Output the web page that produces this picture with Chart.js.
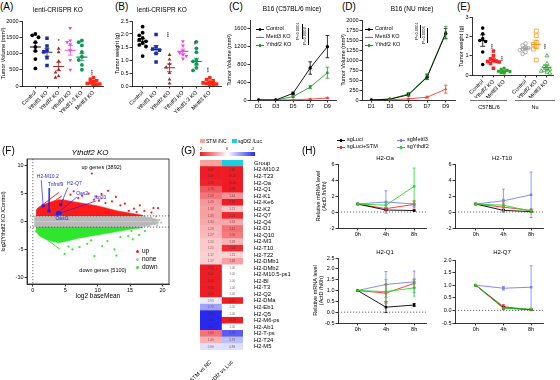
<!DOCTYPE html>
<html>
<head>
<meta charset="utf-8">
<script src="https://cdn.jsdelivr.net/npm/chart.js@4.4.1/dist/chart.umd.min.js"></script>
<style>
  body { margin: 0; width: 560px; height: 380px; position: relative; overflow: hidden; background: #fff;
         font-family: "Liberation Sans", Arial, sans-serif; }
  canvas { position: absolute; }
  .t { position: absolute; white-space: nowrap; line-height: 1; color: #000; }
</style>
</head>
<body>
<script>
//Panel A/B: lenti-CRISPR KO tumour volume and weight
const abGroups = ['Control', 'Ythdf1 KO', 'Ythdf2 KO', 'Ythdf3 KO', 'Ythdf1-3 KO', 'Mettl3 KO'];
const volControl = [1600, 1560, 1500, 1350, 1200, 1080, 830, 540];
const volYthdf1 = [1470, 1230, 1100, 1050, 870, 630];
const volYthdf2 = [1150, 1040, 760, 500, 420, 300, 260];
const volYthdf3 = [1780, 1400, 1350, 1280, 1100, 800, 500];
const volYthdf13 = [1400, 1350, 1250, 1050, 900, 800, 650, 500];
const volMettl3 = [260, 210, 160, 130, 100, 80, 60, 45, 30, 20, 10, 5];
const volMean = [1200, 1040, 600, 1100, 890, 70];
const volSem = [130, 120, 130, 150, 110, 25];
const volTicks = [0, 500, 1000, 1500, 2000];

const wtControl = [2.28, 2.05, 1.95, 1.85, 1.78, 1.72, 1.65, 1.58, 1.52, 1.15];
const wtYthdf1 = [1.98, 1.5, 1.42, 1.38, 1.25, 0.92];
const wtYthdf2 = [1.2, 1.02, 0.85, 0.72, 0.5, 0.25, 0.1];
const wtYthdf3 = [1.72, 1.55, 1.35, 1.28, 1.2, 1.15, 1.05];
const wtYthdf13 = [1.7, 1.45, 1.3, 1.0, 0.95, 0.85, 0.7, 0.6];
const wtMettl3 = [0.32, 0.25, 0.2, 0.15, 0.12, 0.1, 0.08, 0.05, 0.03];
const wtMean = [1.72, 1.4, 0.7, 1.33, 0.94, 0.13];
const wtSem = [0.1, 0.15, 0.15, 0.09, 0.13, 0.03];
const wtTicks = [0, 0.5, 1, 1.5, 2, 2.5];

//Panel C/D: growth curves
const days = ['D1', 'D3', 'D5', 'D7', 'D9'];
const c57Control = [0, 0, 150, 720, 1200];
const c57ControlErr = [0, 0, 30, 140, 250];
const c57Mettl3 = [0, 0, 5, 20, 45];
const c57Mettl3Err = [0, 0, 3, 8, 15];
const c57Ythdf2 = [0, 0, 75, 290, 615];
const c57Ythdf2Err = [0, 0, 15, 35, 125];
const c57Ticks = [0, 200, 400, 600, 800, 1000, 1200, 1400, 1600, 1800];

const nuControl = [0, 20, 130, 570, 1660];
const nuControlErr = [0, 10, 30, 60, 130];
const nuMettl3 = [0, 5, 30, 70, 270];
const nuMettl3Err = [0, 3, 10, 25, 100];
const nuYthdf2 = [0, 25, 150, 585, 1690];
const nuYthdf2Err = [0, 10, 35, 70, 150];
const nuTicks = [0, 250, 500, 750, 1000, 1250, 1500, 1750, 2000];

//Panel E: tumour weight in C57BL/6 and Nu mice
const eGroups = ['Control', 'Ythdf2 KO', 'Mettl3 KO', 'Control', 'Ythdf2 KO', 'Mettl3 KO'];
const eC57Control = [2.45, 2.15, 1.9, 1.8, 1.75, 1.2, 0.55];
const eC57Ythdf2 = [1.25, 1.0, 0.85, 0.75, 0.72, 0.7, 0.68, 0.6, 0.35];
const eC57Mettl3 = [0.35, 0.3, 0.25, 0.2, 0.18, 0.15, 0.12, 0.1];
const eNuControl = [1.65, 1.55, 1.45, 1.4, 1.35, 1.3, 1.2, 1.1];
const eNuYthdf2 = [2.3, 2.05, 1.7, 1.6, 1.5, 1.35, 0.78];
const eNuMettl3 = [1.0, 0.6, 0.45, 0.35, 0.3, 0.25, 0.2, 0.15, 0.1];
const eMean = [1.8, 0.78, 0.2, 1.4, 1.6, 0.4];
const eSem = [0.3, 0.08, 0.04, 0.07, 0.22, 0.1];
const eTicks = [0, 1, 2, 3];

//Panel F: MA plot, envelopes of the dense clouds plus sparse points
const noneX = [0.2, 1, 3, 5, 8, 11, 14, 16, 17.5, 18.5, 19.4];
const noneUpper = [0.9, 1, 1, 1, 1, 1, 1, 0.95, 0.8, 0.6, 0.3];
const noneLower = [-0.9, -1, -1, -1, -1, -1, -1, -0.95, -0.8, -0.6, -0.3];
const upX = [0.5, 1, 2, 3, 4, 5, 6, 7, 8, 9, 10, 11, 12, 13, 14, 15, 16, 17];
const upUpper = [2.0, 2.6, 3.2, 3.6, 3.9, 3.8, 3.6, 3.4, 3.2, 3.0, 2.8, 2.5, 2.2, 1.9, 1.7, 1.5, 1.3, 1.1];
const downX = [0.5, 1, 2, 3, 4, 5, 6, 7, 8, 9, 10, 11, 12, 13, 14, 15, 16, 17];
const downLower = [-1.8, -2.6, -3.2, -3.6, -3.8, -3.6, -3.3, -3.0, -2.8, -2.6, -2.4, -2.2, -2.0, -1.8, -1.6, -1.4, -1.25, -1.1];
const upPtsX = [9.1, 11.6, 10.6, 9.8, 8.6, 7.6, 12.8, 12.2, 13.5, 14.2, 15.6, 16.5, 17.2, 18.3, 18.6, 19.3, 6.3, 5.8, 7.0, 10.2, 11.2, 14.8, 16.0, 9.4];
const upPtsY = [8.6, 5.5, 4.9, 4.5, 5.0, 4.6, 4.4, 3.6, 2.9, 3.2, 2.3, 2.9, 1.9, 1.6, 2.4, 2.4, 5.4, 4.8, 4.2, 3.7, 3.3, 1.9, 1.7, 3.9];
const nonePtsX = [18.2, 18.8, 19.5, 17.9, 19.0, 19.8, 17.2, 18.5, 19.2];
const nonePtsY = [0.7, -0.5, 0.3, -0.8, 0.9, -0.2, 0.95, 0.1, -0.7];
const downPtsX = [4.9, 9.5, 12.9, 12.6, 15.4, 14.7, 16.4, 10.7, 8.4, 7.2, 11.5, 13.5, 17.3, 6.1, 9.0, 5.5, 15.2];
const downPtsY = [-5.8, -6.2, -6.1, -5.0, -3.2, -2.6, -2.4, -4.4, -4.0, -4.6, -3.5, -2.8, -1.7, -5.0, -3.4, -4.5, -1.7];
const upStreaks = [[[0.6, 2.2], [4.0, 5.2]], [[0.8, 1.6], [4.5, 4.6]], [[1.2, 1.3], [4.8, 4.0]]];
const downStreaks = [[[0.3, -1.6], [4.2, -5.0]], [[0.8, -1.6], [4.2, -3.7]], [[1.3, -1.4], [4.3, -3.3]], [[1.8, -1.3], [4.4, -3.0]]];
const genes = ['H2-M10.2', 'Tnfrsf9', 'H2-Q7', 'Oas2', 'Isg20', 'Oasl1'];
const geneX = [1.6, 2.5, 4.3, 3.9, 4.2, 3.8];
const geneY = [2.8, 1.9, 3.0, 1.6, 1.5, 1.4];
const maTicksX = [0, 5, 10, 15, 20];
const maTicksY = [-10, -5, 0, 5, 10];

//Panel G: fold-change heatmap
const heatGenes = ['H2-M10.2', 'H2-T23', 'H2-Oa', 'H2-Q1', 'H2-K1', 'H2-Ke6', 'H2-K2', 'H2-Q7', 'H2-Q4', 'H2-D1',
  'H2-Q10', 'H2-M3', 'H2-T10', 'H2-T22', 'H2-DMb1', 'H2-DMb2', 'H2-M10.5-ps1', 'H2-Bl', 'H2-T3', 'H2-Q2',
  'H2-DMa', 'H2-Eb1', 'H2-Q5', 'H2-M6-ps', 'H2-Ab1', 'H2-T-ps', 'H2-T24', 'H2-M5'];
const foldSTM = [3.00, 2.60, 2.09, 1.76, 1.59, 1.43, 1.38, 1.38, 1.34, 1.29, 1.27, 1.20, 1.20, 1.17, 1.17,
  3.00, 3.00, 3.00, 3.00, 3.00, 0.93, 0.72, 0.30, 0.30, 0.40, 1.60, 1.30, 0.90];
const foldSgDf2 = [7.60, 10.00, 10.00, 3.09, 1.44, 2.65, 1.21, 2.07, 1.34, 1.61, 1.56, 1.28, 2.03, 1.15, 1.38,
  1.00, 1.00, 1.00, 1.00, 1.00, 2.51, 1.00, 1.00, 10.00, 1.00, 0.56, 0.79, 0.89];
const heatColumns = ['STM vs NC', 'sgDf2 vs Luc'];

//Panel H: mRNA decay
const hours = ['0h', '4h', '8h'];
const oaLuci = [1, 0.25, 0.18], oaLuciErr = [0, 0.08, 0.05];
const oaStm = [1, 0.42, 0.95], oaStmErr = [0, 0.15, 0.45];
const oaMettl3 = [1, 1.25, 1.0], oaMettl3Err = [0, 1.4, 0.3];
const oaYthdf2 = [1, 0.85, 3.2], oaYthdf2Err = [0, 0.3, 2.3];
const t10Luci = [1, 0.2, 0.05], t10LuciErr = [0, 0.1, 0.03];
const t10Stm = [1, 0.6, 0.2], t10StmErr = [0, 0.5, 0.2];
const t10Mettl3 = [1, 1.4, 2.15], t10Mettl3Err = [0, 1.45, 2.85];
const t10Ythdf2 = [1, 0.85, 0.1], t10Ythdf2Err = [0, 0.75, 0.1];
const q1Luci = [1, 0.23, 0.33], q1LuciErr = [0, 0.25, 0.07];
const q1Stm = [1, 0.88, 1.33], q1StmErr = [0, 0.4, 0.2];
const q1Mettl3 = [1, 1.28, 1.4], q1Mettl3Err = [0, 0.6, 0.5];
const q1Ythdf2 = [1, 0.95, 1.12], q1Ythdf2Err = [0, 0.55, 0.38];
const q7Luci = [1, 0.1, 0.03], q7LuciErr = [0, 0.05, 0.02];
const q7Stm = [1, 0.15, 0.02], q7StmErr = [0, 0.08, 0.02];
const q7Mettl3 = [1, 0.88, 0.92], q7Mettl3Err = [0, 0.07, 0.85];
const q7Ythdf2 = [1, 0.08, 0.05], q7Ythdf2Err = [0, 0.03, 0.03];
const hTicksTop = [-2, 0, 2, 4, 6];
const hTicksQ1 = [-0.5, 0, 0.5, 1, 1.5, 2, 2.5];
const hTicksQ7 = [-0.5, 0, 0.5, 1, 1.5, 2];

/* global Chart */
const FONT = '"Liberation Sans", Arial, sans-serif';
Chart.defaults.font.family = FONT;
Chart.defaults.font.size = 5.5;
Chart.defaults.color = '#000';

const RED = '#ff3b30';
const GREEN = '#1e9e1e';

//Layout helpers
function canvasAt(left, top, w, h) {
  const c = document.createElement('canvas');
  c.width = w;
  c.height = h;
  c.style.cssText = `left:${left}px;top:${top}px;width:${w}px;height:${h}px`;
  document.body.appendChild(c);
  return c;
}

function label(text, x, y, size, extra = '') {
  const d = document.createElement('div');
  d.className = 't';
  d.style.cssText = `left:${x}px;top:${y}px;font-size:${size}px;${extra}`;
  d.textContent = text;
  document.body.appendChild(d);
  return d;
}

function ctext(text, cx, cy, size, extra = '') {
  return label(text, cx, cy, size, `transform:translate(-50%,-50%);${extra}`);
}

function rtext(text, cx, cy, size) {
  return label(text, cx, cy, size, 'transform:translate(-50%,-50%) rotate(-90deg)');
}

function box(x, y, w, h, css) {
  const d = document.createElement('div');
  d.style.cssText = `position:absolute;left:${x}px;top:${y}px;width:${w}px;height:${h}px;${css}`;
  document.body.appendChild(d);
  return d;
}

function marker(cx, cy, color, shape, size) {
  if (shape === 'tri') {
    return box(cx - size / 2, cy - size / 2, 0, 0,
      `border-left:${size / 2}px solid transparent;border-right:${size / 2}px solid transparent;border-bottom:${size}px solid ${color}`);
  }
  return box(cx - size / 2, cy - size / 2, size, size,
    `background:${color};${shape === 'circle' ? 'border-radius:50%' : ''}`);
}

function lineKey(x, y, color, shape, text, size) {
  box(x, y, 8, 0, `border-top:0.8px solid ${color}`);
  marker(x + 4, y + 0.4, color, shape, 2.6);
  label(text, x + 10, y - size / 2, size);
}

function noPad(a) {
  a.paddingLeft = a.paddingRight = a.paddingTop = a.paddingBottom = 0;
}

function yAxis(min, max, ticks, width, title, fmt) {
  return {
    type: 'linear', min, max,
    afterBuildTicks: (a) => { a.ticks = ticks.map((v) => ({ value: v })); },
    ticks: { font: { size: 5.5 }, padding: 1, callback: fmt || ((v) => v) },
    grid: { drawOnChartArea: false, tickLength: 2.5, color: '#000', lineWidth: 0.8 },
    border: { color: '#000', width: 0.8 },
    title: { display: !!title, text: title || '', font: { size: 5.5 }, padding: 0 },
    afterFit: (a) => { a.width = width; noPad(a); },
  };
}

function xSlots(min, max, slots, labels, height, rotation) {
  return {
    type: 'linear', min, max,
    afterBuildTicks: (a) => { a.ticks = slots.map((v) => ({ value: v })); },
    ticks: { autoSkip: false, minRotation: rotation, maxRotation: rotation, font: { size: 5.5 }, padding: 1,
      callback: (v, i) => labels[i] },
    grid: { drawOnChartArea: false, tickLength: 2.5, color: '#000', lineWidth: 0.8 },
    border: { color: '#000', width: 0.8 },
    afterFit: (a) => { a.height = height; noPad(a); },
  };
}

function xCat(height) {
  return {
    type: 'category', offset: true,
    ticks: { font: { size: 5.5 }, maxRotation: 0, padding: 1 },
    grid: { drawOnChartArea: false, offset: false, tickLength: 2.5, color: '#000', lineWidth: 0.8 },
    border: { color: '#000', width: 0.8 },
    afterFit: (a) => { a.height = height; noPad(a); },
  };
}

function chartOptions(pad, scales, extra = {}) {
  return {
    responsive: false, animation: false, events: [],
    layout: { padding: pad },
    plugins: { legend: { display: false }, tooltip: { enabled: false } },
    scales, ...extra,
  };
}

//Plugins
const errorBars = {
  id: 'errorBars',
  afterDatasetsDraw(chart) {
    const ctx = chart.ctx;
    chart.data.datasets.forEach((ds, di) => {
      if (!ds.err) return;
      const meta = chart.getDatasetMeta(di);
      const ys = chart.scales[meta.yAxisID];
      ctx.save();
      ctx.strokeStyle = ds.borderColor;
      ctx.lineWidth = 0.8;
      meta.data.forEach((pt, i) => {
        const e = ds.err[i];
        if (!e) return;
        const raw = ds.data[i];
        const v = typeof raw === 'object' ? raw.y : raw;
        const lo = ys.getPixelForValue(v - e);
        const hi = ys.getPixelForValue(v + e);
        const c = ds.cap || 1.5;
        ctx.beginPath();
        ctx.moveTo(pt.x, lo); ctx.lineTo(pt.x, hi);
        ctx.moveTo(pt.x - c, lo); ctx.lineTo(pt.x + c, lo);
        ctx.moveTo(pt.x - c, hi); ctx.lineTo(pt.x + c, hi);
        ctx.stroke();
      });
      ctx.restore();
    });
  },
};

function notesPlugin(items) {
  return {
    id: 'notes',
    afterDatasetsDraw(chart) {
      const { ctx, scales } = chart;
      items.forEach((n) => {
        ctx.save();
        ctx.fillStyle = n.color || '#000';
        ctx.font = `${n.style || ''} ${n.size || 5}px ${FONT}`;
        ctx.textAlign = n.align || 'center';
        ctx.textBaseline = 'middle';
        ctx.translate(scales.x.getPixelForValue(n.x), scales.y.getPixelForValue(n.y));
        if (n.rot) ctx.rotate((n.rot * Math.PI) / 180);
        ctx.fillText(n.text, 0, 0);
        ctx.restore();
      });
    },
  };
}

function refLines(xs, ys, onTop) {
  const draw = (chart) => {
    const { ctx, chartArea: a, scales } = chart;
    ctx.save();
    ctx.strokeStyle = '#444';
    ctx.lineWidth = 0.8;
    ctx.setLineDash([1.2, 1.8]);
    ctx.beginPath();
    ys.forEach((v) => { const p = scales.y.getPixelForValue(v); ctx.moveTo(a.left, p); ctx.lineTo(a.right, p); });
    xs.forEach((v) => { const p = scales.x.getPixelForValue(v); ctx.moveTo(p, a.top); ctx.lineTo(p, a.bottom); });
    ctx.stroke();
    ctx.restore();
  };
  return onTop ? { id: 'refLines', afterDatasetsDraw: draw } : { id: 'refLines', beforeDatasetsDraw: draw };
}

const frame = {
  id: 'frame',
  afterDraw(chart) {
    const { ctx, chartArea: a } = chart;
    ctx.save();
    ctx.strokeStyle = '#333';
    ctx.lineWidth = 0.9;
    ctx.strokeRect(a.left, a.top, a.right - a.left, a.bottom - a.top);
    ctx.restore();
  },
};

//Dot plot helpers (scatter dots + mean line + SEM)
function spread(values, tol, step) {
  const placed = [];
  return values.map((v) => {
    for (const k of [0, -1, 1, -2, 2]) {
      const dx = k * step;
      const hit = placed.some((p) => Math.abs(p.y - v) < tol && Math.abs(p.dx - dx) < step * 0.9);
      if (!hit) { placed.push({ y: v, dx }); return dx; }
    }
    placed.push({ y: v, dx: 0 });
    return 0;
  });
}

function dotSets(groups, mean, sem, styles, tol, step, slot, half) {
  const sets = [];
  groups.forEach((vals, i) => {
    const st = styles[i];
    const offs = spread(vals, tol, step);
    sets.push({
      data: vals.map((v, j) => ({ x: slot(i) + offs[j], y: v })),
      pointStyle: st.shape, pointRotation: st.rot || 0, pointRadius: st.r,
      backgroundColor: st.hollow ? 'rgba(255,255,255,0)' : st.color,
      borderColor: st.color, pointBorderWidth: st.hollow ? 0.8 : 0,
    });
    sets.push({
      data: [{ x: slot(i), y: mean[i] }],
      pointStyle: 'line', pointRadius: half, borderColor: st.color, pointBorderWidth: 1.1,
      err: [sem[i]], cap: 2.5,
    });
  });
  return sets;
}

function lineSet(vals, err, color, shape, order) {
  return {
    data: vals, err, borderColor: color, backgroundColor: color, borderWidth: 0.9,
    pointStyle: shape, pointRadius: 1.7, pointBorderWidth: 0, cap: 1.8, order: order || 0,
  };
}

//Panel A
const abStyles = [
  { color: '#000000', shape: 'circle', r: 1.9 },
  { color: '#1d2d9c', shape: 'rect', r: 2.5 },
  { color: '#a52a2a', shape: 'triangle', r: 2.2 },
  { color: '#ee44ee', shape: 'triangle', r: 2.2, rot: 180 },
  { color: '#0b9a55', shape: 'circle', r: 1.9 },
  { color: '#ff2a14', shape: 'rect', r: 2.5 },
];
const abSlot = (i) => i;

new Chart(canvasAt(0, 13, 110, 113), {
  type: 'scatter',
  data: { datasets: dotSets([volControl, volYthdf1, volYthdf2, volYthdf3, volYthdf13, volMettl3],
    volMean, volSem, abStyles, 110, 0.27, abSlot, 5.5) },
  options: chartOptions({ left: 0, top: 8, right: 4, bottom: 0 }, {
    x: xSlots(-1.15, 5.85, abGroups.map((g, i) => abSlot(i)), abGroups, 40, 45),
    y: yAxis(0, 2000, volTicks, 22, 'Tumor Volume (mm³)'),
  }),
  plugins: [errorBars, notesPlugin([
    { x: 2, y: 1380, text: '*', size: 5 },
    { x: 5, y: 420, text: '***', size: 4.5, rot: -90 },
  ])],
});

//Panel B
new Chart(canvasAt(114, 13, 114, 113), {
  type: 'scatter',
  data: { datasets: dotSets([wtControl, wtYthdf1, wtYthdf2, wtYthdf3, wtYthdf13, wtMettl3],
    wtMean, wtSem, abStyles, 0.14, 0.25, abSlot, 5.5) },
  options: chartOptions({ left: 0, top: 8, right: 3, bottom: 0 }, {
    x: xSlots(-0.79, 5.86, abGroups.map((g, i) => abSlot(i)), abGroups, 40, 45),
    y: yAxis(0, 2.5, wtTicks, 18, 'Tumor weight (g)', (v) => v.toFixed(1)),
  }),
  plugins: [errorBars, notesPlugin([
    { x: 2, y: 1.98, text: '***', size: 4.5, rot: -90 },
    { x: 4, y: 1.65, text: '**', size: 4.5, rot: -90 },
    { x: 5, y: 0.62, text: '***', size: 4.5, rot: -90 },
  ])],
});

//Panel C
new Chart(canvasAt(226, 14, 114, 98), {
  type: 'line',
  data: { labels: days, datasets: [
    lineSet(c57Control, c57ControlErr, '#000', 'circle', 1),
    lineSet(c57Mettl3, c57Mettl3Err, RED, 'triangle', 3),
    lineSet(c57Ythdf2, c57Ythdf2Err, GREEN, 'rect', 2),
  ] },
  options: chartOptions({ left: 0, top: 6, right: 2, bottom: 0 }, {
    x: xCat(12),
    y: yAxis(0, 1800, c57Ticks, 24, 'Tumor Volume (mm³)'),
  }),
  plugins: [errorBars],
});

//Panel D
new Chart(canvasAt(340, 14, 119, 98), {
  type: 'line',
  data: { labels: days, datasets: [
    lineSet(nuControl, nuControlErr, '#000', 'circle', 1),
    lineSet(nuMettl3, nuMettl3Err, RED, 'triangle', 3),
    lineSet(nuYthdf2, nuYthdf2Err, GREEN, 'rect', 2),
  ] },
  options: chartOptions({ left: 0, top: 6, right: 2, bottom: 0 }, {
    x: xCat(12),
    y: yAxis(0, 2000, nuTicks, 22, 'Tumor Volume (mm³)'),
  }),
  plugins: [errorBars],
});

//Panel E
const eStyles = [
  { color: '#000000', shape: 'circle', r: 1.8 },
  { color: '#ff2020', shape: 'rect', r: 2.5 },
  { color: '#2aa52a', shape: 'rect', r: 2.1 },
  { color: '#9a9a9a', shape: 'circle', r: 1.8, hollow: true },
  { color: '#f39a1e', shape: 'rect', r: 2.7, hollow: true },
  { color: '#3aa53a', shape: 'triangle', r: 2.2, hollow: true },
];
const eSlot = (i) => (i < 3 ? i : i + 1);

new Chart(canvasAt(458, 12, 101, 86), {
  type: 'scatter',
  data: { datasets: dotSets([eC57Control, eC57Ythdf2, eC57Mettl3, eNuControl, eNuYthdf2, eNuMettl3],
    eMean, eSem, eStyles, 0.18, 0.27, eSlot, 4.5) },
  options: chartOptions({ left: 0, top: 5, right: 3, bottom: 0 }, {
    x: xSlots(-1, 6.6, eGroups.map((g, i) => eSlot(i)), eGroups, 23, 45),
    y: yAxis(0, 3, eTicks, 14, 'Tumor weight (g)'),
  }),
  plugins: [errorBars, notesPlugin([
    { x: 1, y: 1.5, text: '***', size: 4.5, rot: -90 },
    { x: 2, y: 0.85, text: '***', size: 4.5, rot: -90 },
    { x: 6, y: 1.5, text: '***', size: 4.5, rot: -90 },
  ])],
});

//Panel F
const xy = (xs, ys) => xs.map((x, i) => ({ x, y: ys[i] }));
const seg = (s) => s.map((p) => ({ x: p[0], y: p[1] }));
const MA_RED = '#ff1a1a';
const MA_GRAY = '#b9b9b9';
const MA_GREEN = '#2ee62e';
const MA_BLUE = '#2323e6';

const leaders = [
  { gene: 0, tx: 2.3, ty: 8.0, from: [1.3, 7.4] },
  { gene: 1, tx: 3.5, ty: 6.6, from: [2.6, 6.0] },
  { gene: 2, tx: 6.4, ty: 6.7, from: [5.4, 6.1] },
  { gene: 3, tx: 7.6, ty: 5.0, from: [6.8, 4.4] },
  { gene: 4, tx: 10.4, ty: 4.2, from: [9.8, 3.7] },
  { gene: 5, tx: 4.5, ty: 0.5, from: null },
];

const fSets = [
  { type: 'line', data: xy(noneX, noneUpper), backgroundColor: MA_GRAY, borderColor: MA_GRAY, borderWidth: 0.6, fill: { value: 0 }, pointRadius: 0, order: 20 },
  { type: 'line', data: xy(noneX, noneLower), backgroundColor: MA_GRAY, borderColor: MA_GRAY, borderWidth: 0.6, fill: { value: 0 }, pointRadius: 0, order: 20 },
  { type: 'line', data: xy(upX, upUpper), backgroundColor: MA_RED, borderColor: MA_RED, borderWidth: 0.6, fill: { value: 1 }, pointRadius: 0, order: 15 },
  { type: 'line', data: xy(downX, downLower), backgroundColor: MA_GREEN, borderColor: MA_GREEN, borderWidth: 0.6, fill: { value: -1 }, pointRadius: 0, order: 15 },
  { data: xy(upPtsX, upPtsY), backgroundColor: MA_RED, pointRadius: 1.1, pointBorderWidth: 0, order: 10 },
  { data: xy(nonePtsX, nonePtsY), backgroundColor: MA_GRAY, pointRadius: 1.1, pointBorderWidth: 0, order: 10 },
  { data: xy(downPtsX, downPtsY), backgroundColor: MA_GREEN, pointRadius: 1.1, pointBorderWidth: 0, order: 10 },
  ...upStreaks.map((s) => ({ type: 'line', data: seg(s), borderColor: MA_RED, borderWidth: 1, pointRadius: 0, order: 12 })),
  ...downStreaks.map((s) => ({ type: 'line', data: seg(s), borderColor: MA_GREEN, borderWidth: 1, pointRadius: 0, order: 12 })),
  ...leaders.filter((l) => l.from).map((l) => ({
    type: 'line', data: [{ x: l.from[0], y: l.from[1] }, { x: geneX[l.gene], y: geneY[l.gene] }],
    borderColor: MA_BLUE, borderWidth: 0.7, pointRadius: 0, order: 2,
  })),
  { data: xy(geneX, geneY), backgroundColor: MA_BLUE, pointStyle: 'rect', pointRadius: 2.2, pointBorderWidth: 0, order: 1 },
];

new Chart(canvasAt(0, 155, 173, 149), {
  type: 'scatter',
  data: { datasets: fSets },
  options: chartOptions({ left: 0, top: 3, right: 3, bottom: 0 }, {
    x: Object.assign(xSlots(-0.9, 21, maTicksX, maTicksX, 20, 0), {
      title: { display: true, text: 'log2 baseMean', font: { size: 6.5 }, padding: { top: 2 } },
    }),
    y: Object.assign(yAxis(-11.2, 11.2, maTicksY, 27, 'log2(Ythdf2 KO /Control)'), {}),
  }),
  plugins: [refLines([0], [1, -1], true), frame, notesPlugin([
    { x: 10.6, y: 9.6, text: 'up genes (3892)', size: 5.5 },
    { x: 10.8, y: -8.8, text: 'down genes (5100)', size: 5.5 },
    ...leaders.map((l) => ({ x: l.tx, y: l.ty, text: genes[l.gene], size: 5, color: MA_BLUE })),
  ])],
});

//Panel G
function heatColor(fc) {
  const t = Math.max(-1, Math.min(1, Math.log2(fc) / 1.1));
  const k = Math.abs(t);
  const end = t >= 0 ? [238, 28, 36] : [40, 40, 240];
  const c = end.map((e) => Math.round(255 + (e - 255) * k));
  return `rgb(${c[0]},${c[1]},${c[2]})`;
}
const heatRows = ['Group', ...heatGenes];
const heatCols = [foldSTM, foldSgDf2];
const groupColors = ['#f7a39b', '#1ad0e0'];

const cellText = {
  id: 'cellText',
  afterDatasetsDraw(chart) {
    const ctx = chart.ctx;
    ctx.save();
    ctx.font = `3px ${FONT}`;
    ctx.fillStyle = 'rgba(70,40,40,0.7)';
    ctx.textAlign = 'center';
    ctx.textBaseline = 'middle';
    heatCols.forEach((vals, c) => {
      const meta = chart.getDatasetMeta(c);
      vals.forEach((v, r) => {
        const bar = meta.data[r + 1];
        ctx.fillText(v.toFixed(2), (bar.x + bar.base) / 2, bar.y);
      });
    });
    ctx.restore();
  },
};

new Chart(canvasAt(180, 156, 115, 224), {
  type: 'bar',
  data: {
    labels: heatRows,
    datasets: heatCols.map((vals, c) => ({
      data: heatRows.map(() => [c, c + 1]),
      backgroundColor: [groupColors[c], ...vals.map(heatColor)],
      borderWidth: 0, barPercentage: 1, categoryPercentage: 1, grouped: false,
    })),
  },
  options: chartOptions({ left: 20, top: 4, right: 0, bottom: 0 }, {
    x: {
      type: 'linear', min: 0, max: 2,
      afterBuildTicks: (a) => { a.ticks = heatColumns.map((g, i) => ({ value: i + 0.5 })); },
      ticks: { autoSkip: false, minRotation: 45, maxRotation: 45, font: { size: 5.5 }, padding: 1,
        callback: (v, i) => heatColumns[i] },
      grid: { display: false }, border: { display: false },
      afterFit: (a) => { a.height = 30; noPad(a); },
    },
    y: {
      type: 'category', position: 'right',
      ticks: { font: { size: 5.8 }, padding: 3, autoSkip: false },
      grid: { display: false }, border: { display: false },
      afterFit: (a) => { a.width = 52; noPad(a); },
    },
  }, { indexAxis: 'y' }),
  plugins: [cellText],
});

//Panel H
const H_BLACK = '#000000';
const H_RED = '#ff2a2a';
const H_BLUE = '#7b7bff';
const H_GREEN = '#22dd22';

function hChart(left, top, w, h, yW, title, xMin, xMax, yMin, yMax, ticks, fmt, series) {
  const slots = hours.map((g, i) => i);
  new Chart(canvasAt(left, top, w, h), {
    type: 'scatter',
    data: { datasets: series.map((s) => ({
      data: s.vals.map((v, i) => ({ x: slots[i], y: v })), err: s.err, showLine: true,
      borderColor: s.color, backgroundColor: s.color, borderWidth: 0.9,
      pointStyle: 'rect', pointRadius: 1.8, pointBorderWidth: 0, cap: 1.5, order: s.order,
    })) },
    options: chartOptions({ left: 0, top: 4, right: 3, bottom: 0 }, {
      x: xSlots(xMin, xMax, slots, hours, 12, 0),
      y: yAxis(yMin, yMax, ticks, yW, title, fmt),
    }),
    plugins: [refLines([], [0], false), errorBars],
  });
}
const hTitle = ['Relative mRNA level', '(ActD /h/0h)'];
const f1 = (v) => v.toFixed(1);

hChart(315, 160, 115, 80, 23, hTitle, -0.7, 2.42, -2, 6, hTicksTop, null, [
  { vals: oaLuci, err: oaLuciErr, color: H_BLACK, order: 2 },
  { vals: oaStm, err: oaStmErr, color: H_RED, order: 3 },
  { vals: oaMettl3, err: oaMettl3Err, color: H_BLUE, order: 4 },
  { vals: oaYthdf2, err: oaYthdf2Err, color: H_GREEN, order: 1 },
]);
hChart(441, 160, 106, 80, 14, null, -0.75, 2.43, -2, 6, hTicksTop, null, [
  { vals: t10Luci, err: t10LuciErr, color: H_BLACK, order: 2 },
  { vals: t10Stm, err: t10StmErr, color: H_RED, order: 3 },
  { vals: t10Mettl3, err: t10Mettl3Err, color: H_BLUE, order: 4 },
  { vals: t10Ythdf2, err: t10Ythdf2Err, color: H_GREEN, order: 1 },
]);
hChart(312, 254, 118, 81, 26, hTitle, -0.7, 2.42, -0.5, 2.5, hTicksQ1, f1, [
  { vals: q1Luci, err: q1LuciErr, color: H_BLACK, order: 2 },
  { vals: q1Stm, err: q1StmErr, color: H_RED, order: 3 },
  { vals: q1Mettl3, err: q1Mettl3Err, color: H_BLUE, order: 4 },
  { vals: q1Ythdf2, err: q1Ythdf2Err, color: H_GREEN, order: 1 },
]);
hChart(440, 256, 107, 79, 15, null, -0.75, 2.43, -0.5, 2.0, hTicksQ7, f1, [
  { vals: q7Luci, err: q7LuciErr, color: H_BLACK, order: 2 },
  { vals: q7Stm, err: q7StmErr, color: H_RED, order: 3 },
  { vals: q7Mettl3, err: q7Mettl3Err, color: H_BLUE, order: 4 },
  { vals: q7Ythdf2, err: q7Ythdf2Err, color: H_GREEN, order: 1 },
]);

//Text, legends and decorations
label('(A)', 0, 2, 10);
label('(B)', 115, 2, 10);
label('(C)', 229, 2, 10);
label('(D)', 342, 2, 10);
label('(E)', 457, 2, 10);
label('(F)', 2, 146, 10);
label('(G)', 181, 146, 10);
label('(H)', 302, 146, 10);

ctext('lenti-CRISPR KO', 58, 10, 6.5);
ctext('lenti-CRISPR KO', 162, 10, 6.5);
ctext('B16 (C57BL/6 mice)', 292, 9, 6.5);
ctext('B16 (NU mice)', 412, 9, 6.5);
ctext('Ythdf2 KO', 90, 153, 8, 'font-style:italic');
ctext('H2-Oa', 385, 158, 6);
ctext('H2-T10', 502, 158, 6);
ctext('H2-Q1', 385, 252, 6);
ctext('H2-Q7', 502, 252, 6);

//C and D legends + p values
[[256, 'C'], [365, 'D']].forEach(([x]) => {
  lineKey(x, 29, '#000', 'circle', 'Control', 5.5);
  lineKey(x, 37, RED, 'tri', 'Mettl3 KO', 5.5);
  lineKey(x, 45, GREEN, 'sq', 'Ythdf2 KO', 5.5);
});
rtext('P<0.0001', 298, 31, 4);
box(302, 24, 0, 15, 'border-left:0.6px solid #000');
rtext('P=0.0002', 305, 36, 4);
box(308, 28, 0, 17, 'border-left:0.6px solid #000');
rtext('P<0.0001', 417, 31, 4);
box(420, 25, 0, 13, 'border-left:0.6px solid #000');
rtext('P=0.0006', 424, 35, 4);
box(427, 28, 0, 15, 'border-left:0.6px solid #000');

//E strain groups
box(470, 100, 37, 0, 'border-top:1.2px solid #777');
ctext('C57BL/6', 489, 108, 5.5);
box(515, 100, 40, 0, 'border-top:1.2px solid #777');
ctext('Nu', 535, 108, 5.5);

//F legend
[['up', MA_RED, 251], ['none', MA_GRAY, 259], ['down', MA_GREEN, 267]].forEach(([t, c, y]) => {
  marker(137, y, c, 'circle', 3);
  label(t, 142, y - 3.3, 6.5);
});

//G legend and colour key
box(200, 139, 5, 4, 'background:#f7a39b');
label('STM /NC', 206, 138.5, 5);
box(232, 139, 5, 4, 'background:#1ad0e0');
label('sgDf2 /Luc', 238, 138.5, 5);
box(200, 152, 55, 4, 'background:linear-gradient(to right,#ee1c24,#ffffff,#2828f0)');
label('2', 200, 147.5, 3.5);
label('0', 226, 147.5, 3.5);
label('-2', 251, 147.5, 3.5);

//H legend
lineKey(337, 140, H_BLACK, 'sq', 'sgLuci', 5.5);
lineKey(337, 147, H_RED, 'sq', 'sgLuci+STM', 5.5);
lineKey(397, 140, H_BLUE, 'sq', 'sgMettl3', 5.5);
lineKey(397, 147, H_GREEN, 'sq', 'sgYthdf2', 5.5);
</script>
</body>
</html>
